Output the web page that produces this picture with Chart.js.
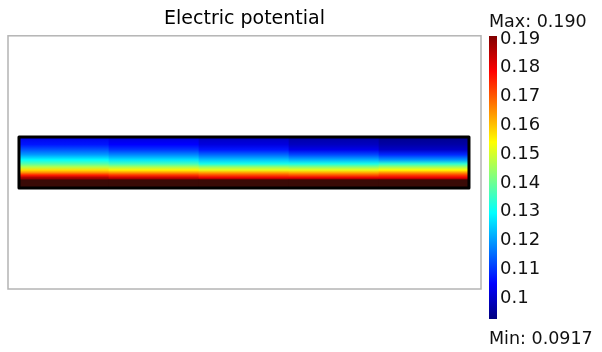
<!DOCTYPE html>
<html>
<head>
<meta charset="utf-8">
<title>Electric potential</title>
<script src="https://cdn.jsdelivr.net/npm/chart.js@4.4.0/dist/chart.umd.min.js"></script>
<style>
    html, body { margin: 0; padding: 0; background: #fff; }
    #wrap { position: relative; width: 602px; height: 352px; }
    #plotBox { position: absolute; left: 0; top: 0; width: 602px; height: 352px; }
    #barBox { position: absolute; left: 480px; top: 0; width: 122px; height: 352px; }
</style>
</head>
<body>
<div id="wrap">
    <div id="plotBox"><canvas id="plotChart"></canvas></div>
    <div id="barBox"><canvas id="colorBar"></canvas></div>
</div>
<script>
// potential range (colour scale)
const potentialMin = 0.0917;
const potentialMax = 0.190;

// colour bar tick labels
const colorTicks = [0.1, 0.11, 0.12, 0.13, 0.14, 0.15, 0.16, 0.17, 0.18, 0.19];

// strip geometry (model units)
const stripLength = 1;
const stripThickness = 0.113;
const layerFraction = 0.16;   // thin dark layer at the bottom

// sample columns along the strip
const columnCenters = [0.1, 0.3, 0.5, 0.7, 0.9];

// sample depths, fraction of thickness from bottom to top
const depthLevels = [0.16, 0.2, 0.25, 0.3, 0.35, 0.41, 0.47, 0.55, 0.65, 0.75, 0.85, 1.0];

// potential read at each depth, one list per column (left -> right)
const potentialCol1 = [0.190, 0.186, 0.175, 0.164, 0.156, 0.146, 0.137, 0.1286, 0.119, 0.112, 0.106, 0.1015];
const potentialCol2 = [0.190, 0.183, 0.173, 0.163, 0.154, 0.145, 0.135, 0.126, 0.117, 0.109, 0.104, 0.100];
const potentialCol3 = [0.190, 0.180, 0.171, 0.162, 0.151, 0.143, 0.131, 0.123, 0.114, 0.106, 0.101, 0.0975];
const potentialCol4 = [0.190, 0.180, 0.170, 0.161, 0.151, 0.142, 0.131, 0.121, 0.111, 0.102, 0.098, 0.095];
const potentialCol5 = [0.190, 0.180, 0.172, 0.163, 0.153, 0.144, 0.133, 0.1185, 0.108, 0.0986, 0.0955, 0.0929];
const columnProfiles = [potentialCol1, potentialCol2, potentialCol3, potentialCol4, potentialCol5];

const fontFamily = "'DejaVu Sans', Verdana, sans-serif";
Chart.defaults.font.family = fontFamily;

// jet colour map
function jetColor(v) {
    const t = Math.min(1, Math.max(0, (v - potentialMin) / (potentialMax - potentialMin)));
    const ch = c => Math.round(255 * Math.min(1, Math.max(0, 1.5 - Math.abs(4 * t - c))));
    return `rgb(${ch(3)}, ${ch(2)}, ${ch(1)})`;
}

// vertical gradient for one strip column
function columnGradient(context) {
    const chart = context.chart;
    if (!chart.chartArea) return null;
    const profile = columnProfiles[context.dataIndex];
    if (!profile) return null;
    const y = chart.scales.y;
    const g = chart.ctx.createLinearGradient(0, y.getPixelForValue(0), 0, y.getPixelForValue(stripThickness));
    depthLevels.forEach((d, i) => g.addColorStop(d, jetColor(profile[i])));
    return g;
}

// colour bar gradient
function barGradient(context) {
    const chart = context.chart;
    if (!chart.chartArea) return null;
    const y = chart.scales.y;
    const g = chart.ctx.createLinearGradient(0, y.getPixelForValue(potentialMin), 0, y.getPixelForValue(potentialMax));
    for (let i = 0; i <= 8; i++) {
        g.addColorStop(i / 8, jetColor(potentialMin + (potentialMax - potentialMin) * i / 8));
    }
    return g;
}

// grey frame round the plot area
const framePlugin = {
    id: 'frame',
    beforeDatasetsDraw(chart) {
        const { ctx, chartArea: a } = chart;
        ctx.save();
        ctx.strokeStyle = '#b4b4b4';
        ctx.lineWidth = 1.5;
        ctx.strokeRect(a.left, a.top, a.right - a.left, a.bottom - a.top);
        ctx.restore();
    }
};

// main plot
new Chart(document.getElementById('plotChart'), {
    type: 'bar',
    data: {
        datasets: [
            {
                label: 'potential',
                data: columnCenters.map(x => ({ x: x, y: [0, stripThickness] })),
                backgroundColor: columnGradient,
                borderWidth: 0,
                barPercentage: 1,
                categoryPercentage: 1,
                grouped: false,
                order: 3
            },
            {
                label: 'layer',
                data: columnCenters.map(x => ({ x: x, y: [0, stripThickness * layerFraction] })),
                backgroundColor: '#3a0a06',
                borderWidth: 0,
                barPercentage: 1,
                categoryPercentage: 1,
                grouped: false,
                order: 2
            },
            {
                type: 'line',
                label: 'boundary',
                data: [
                    { x: 0, y: 0 },
                    { x: stripLength, y: 0 },
                    { x: stripLength, y: stripThickness },
                    { x: 0, y: stripThickness },
                    { x: 0, y: 0 }
                ],
                borderColor: '#000',
                borderWidth: 3,
                borderJoinStyle: 'round',
                borderCapStyle: 'round',
                pointRadius: 0,
                fill: false,
                tension: 0,
                order: 1
            }
        ]
    },
    options: {
        responsive: true,
        maintainAspectRatio: false,
        animation: false,
        layout: {
            padding: { left: 8, right: 121, top: 0, bottom: 63 }
        },
        plugins: {
            legend: { display: false },
            tooltip: { enabled: false },
            title: {
                display: true,
                text: 'Electric potential',
                fullSize: false,
                color: '#000',
                font: { size: 19, weight: 'normal' },
                padding: { top: 8, bottom: 5 }
            }
        },
        scales: {
            x: {
                type: 'linear',
                display: false,
                offset: false,
                min: -0.0244,
                max: 1.0267,
                afterBuildTicks: scale => {
                    scale.ticks = columnCenters.map(value => ({ value }));
                }
            },
            y: { type: 'linear', display: false, min: -0.2238, max: 0.3368 }
        }
    },
    plugins: [framePlugin]
});

// colour bar
new Chart(document.getElementById('colorBar'), {
    type: 'bar',
    data: {
        labels: [''],
        datasets: [{
            data: [[potentialMin, potentialMax]],
            backgroundColor: barGradient,
            borderWidth: 0,
            barPercentage: 1,
            categoryPercentage: 1
        }]
    },
    options: {
        responsive: true,
        maintainAspectRatio: false,
        animation: false,
        layout: {
            padding: { left: 9, right: 0, top: 0, bottom: 0 }
        },
        plugins: {
            legend: { display: false },
            tooltip: { enabled: false },
            title: {
                display: true,
                text: 'Max: ' + potentialMax.toFixed(3),
                align: 'start',
                color: '#111',
                font: { size: 17.5, weight: 'normal' },
                padding: { top: 11.5, bottom: 3.5 }
            },
            subtitle: {
                display: true,
                text: 'Min: ' + potentialMin.toFixed(4),
                position: 'bottom',
                align: 'start',
                color: '#111',
                font: { size: 17.5, weight: 'normal' },
                padding: { top: 9.5, bottom: 2.5 }
            }
        },
        scales: {
            x: { display: false },
            y: {
                position: 'right',
                min: potentialMin,
                max: potentialMax,
                grid: { display: false, drawTicks: false },
                border: { display: false },
                afterBuildTicks: scale => {
                    scale.ticks = colorTicks.map(value => ({ value }));
                },
                afterFit: scale => {
                    scale.width = 105;
                },
                ticks: {
                    autoSkip: false,
                    padding: 3,
                    labelOffset: 3,
                    color: '#111',
                    font: { size: 18 },
                    callback: v => String(+v.toFixed(2))
                }
            }
        }
    }
});
</script>
</body>
</html>
